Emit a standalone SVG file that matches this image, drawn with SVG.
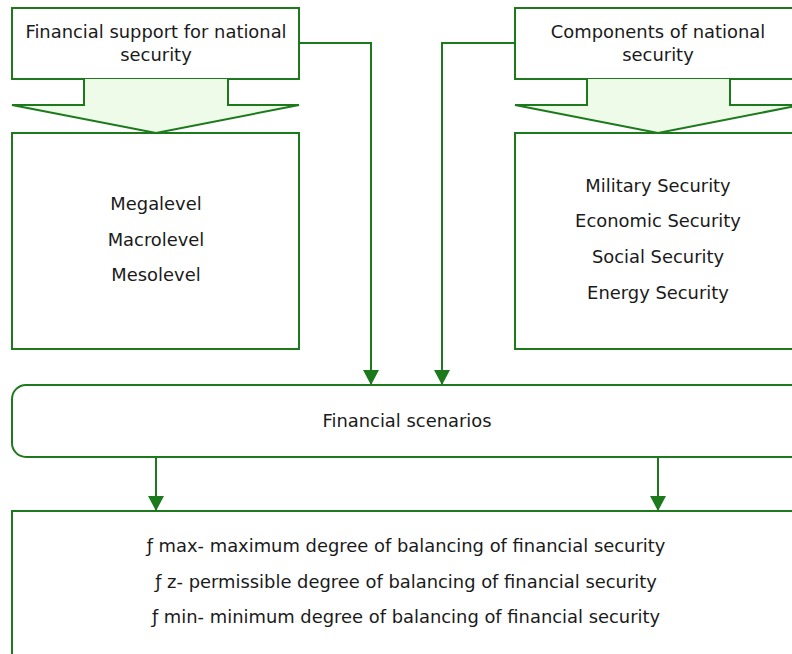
<svg xmlns="http://www.w3.org/2000/svg" width="792" height="654" viewBox="0 0 792 654">
  <defs>
    <marker id="arrow" viewBox="0 0 15 16" refX="15" refY="8" markerWidth="15" markerHeight="16" markerUnits="userSpaceOnUse" orient="auto">
      <path d="M0,0 L15,8 L0,16 Z" fill="#1c7a1c"/>
    </marker>
  </defs>
  <style>
    .box { fill: #ffffff; stroke: #1c7a1c; stroke-width: 2; }
    .flow { fill: #eefbe9; stroke: #1c7a1c; stroke-width: 2; stroke-linejoin: miter; }
    .conn { fill: none; stroke: #1c7a1c; stroke-width: 2; }
    text { font-family: "DejaVu Sans", Verdana, sans-serif; font-size: 17.9px; fill: #1a1a1a; text-anchor: middle; }
  </style>
  <rect x="0" y="0" width="792" height="654" fill="#ffffff"/>

  <g id="connectors">
    <path class="conn" d="M299,43 H371 V385" marker-end="url(#arrow)"/>
    <path class="conn" d="M515,43 H442 V385" marker-end="url(#arrow)"/>
    <path class="conn" d="M156,457 V511" marker-end="url(#arrow)"/>
    <path class="conn" d="M658,457 V511" marker-end="url(#arrow)"/>
  </g>

  <g id="financial-support">
    <rect class="box" x="12" y="8" width="287" height="71"/>
    <text x="156" y="38">Financial support for national</text>
    <text x="156" y="61">security</text>
  </g>

  <g id="levels-arrow">
    <path class="flow" d="M84,79 V105 H12 L156,133 L299,105 H228 V79"/>
  </g>

  <g id="levels">
    <rect class="box" x="12" y="133" width="287" height="216"/>
    <text x="156" y="210">Megalevel</text>
    <text x="156" y="246">Macrolevel</text>
    <text x="156" y="281">Mesolevel</text>
  </g>

  <g id="components">
    <rect class="box" x="515" y="8" width="286" height="71"/>
    <text x="658" y="38">Components of national</text>
    <text x="658" y="61">security</text>
  </g>

  <g id="components-arrow">
    <path class="flow" d="M587,79 V105 H515 L658,133 L801,105 H730 V79"/>
  </g>

  <g id="security-types">
    <rect class="box" x="515" y="133" width="286" height="216"/>
    <text x="658" y="192">Military Security</text>
    <text x="658" y="227">Economic Security</text>
    <text x="658" y="263">Social Security</text>
    <text x="658" y="299">Energy Security</text>
  </g>

  <g id="scenarios">
    <rect class="box" x="12" y="385" width="800" height="72" rx="14" ry="14"/>
    <text x="407" y="427">Financial scenarios</text>
  </g>

  <g id="balancing">
    <rect class="box" x="12" y="511" width="800" height="160"/>
    <text x="406" y="552">ƒ max- maximum degree of balancing of financial security</text>
    <text x="406" y="588">ƒ z- permissible degree of balancing of financial security</text>
    <text x="406" y="623">ƒ min- minimum degree of balancing of financial security</text>
  </g>
</svg>
